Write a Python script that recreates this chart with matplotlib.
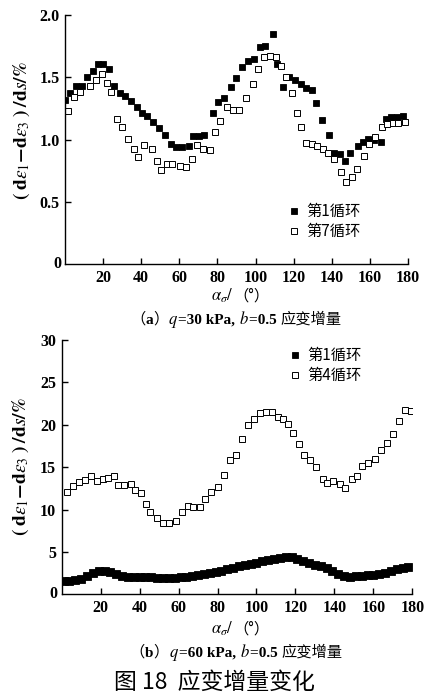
import numpy as np
import matplotlib
matplotlib.use("Agg")
from matplotlib import pyplot as plt
from matplotlib.transforms import IdentityTransform

plt.rcParams['mathtext.fontset'] = 'stix'
SERIF = ['Liberation Serif', 'Noto Sans CJK SC']
CJK = ['Noto Sans CJK SC', 'DejaVu Sans']

# ---- panel (a): q=30 kPa, b=0.5 ----
a_ang1 = [0, 2.6, 5.8, 8.7, 11.7, 14.5, 17.5, 20, 23.2, 25.7, 28.8, 31.5, 34.6, 37.6,
          40.2, 42.8, 46.3, 49.4, 52.6, 55.4, 58.5, 61.2, 65.2, 67.3, 70.3, 73.2, 77.8,
          80.4, 83.5, 87, 90, 93, 96.1, 99.1, 102.3, 105.2, 108.9, 111.5, 114.5, 117.6,
          120.6, 123.8, 126.7, 129.4, 131.6, 135.1, 138.6, 141.2, 144.2, 147.2, 149.8,
          153.8, 156.5, 159, 162.1, 165.6, 168.3, 171.3, 174, 177.4]
a_val1 = [1.32, 1.37, 1.43, 1.43, 1.505, 1.55, 1.61, 1.61, 1.57, 1.43, 1.37, 1.35, 1.31,
          1.26, 1.21, 1.19, 1.14, 1.09, 1.04, 0.965, 0.94, 0.94, 0.946, 1.03, 1.03, 1.035,
          1.21, 1.305, 1.33, 1.425, 1.495, 1.58, 1.63, 1.65, 1.745, 1.755, 1.85, 1.61,
          1.425, 1.50, 1.48, 1.447, 1.415, 1.40, 1.29, 1.158, 1.04, 0.89, 0.88, 0.826,
          0.89, 0.946, 0.978, 1.005, 1.00, 0.98, 1.166, 1.18, 1.18, 1.19]
a_ang7 = [1.7, 4.7, 7.9, 13.1, 16.3, 19.2, 22.2, 24.1, 27.1, 29.7, 33.2, 36.3, 38.1, 41.6,
          45.4, 48.1, 50.4, 53.3, 56.4, 60.3, 63.4, 66.4, 69.4, 72.5, 76, 78.7, 81.6, 85.1,
          88.2, 91.4, 95.2, 98.4, 101.4, 104.4, 107.5, 110.5, 113.3, 116, 118.9, 121.5,
          124.1, 126.7, 129.7, 132.5, 135.4, 138, 141.2, 144.6, 147.7, 150.5, 153.3,
          156.8, 159.6, 162.6, 166.1, 169.2, 172, 175, 178.6]
a_val7 = [1.23, 1.34, 1.38, 1.43, 1.48, 1.53, 1.45, 1.38, 1.166, 1.10, 1.005, 0.925, 0.858,
          0.952, 0.925, 0.83, 0.757, 0.805, 0.805, 0.786, 0.778, 0.84, 0.952, 0.925, 0.912,
          1.06, 1.152, 1.26, 1.233, 1.233, 1.33, 1.447, 1.567, 1.666, 1.674, 1.666, 1.594,
          1.506, 1.37, 1.211, 1.10, 0.97, 0.96, 0.946, 0.92, 0.89, 0.845, 0.74, 0.66, 0.70,
          0.765, 0.864, 0.96, 1.02, 1.10, 1.126, 1.13, 1.13, 1.14]

# ---- panel (b): q=60 kPa, b=0.5 ----
b_ang1 = [1, 4, 7, 10, 13, 16, 19, 22, 25, 28, 31, 34, 37, 40, 43, 46, 49, 52, 55, 58,
          61, 64, 67, 70, 73, 76, 79, 82, 85, 88, 91, 94, 97, 100, 103, 106, 109, 112,
          115, 118, 121, 124, 127, 130, 133, 136, 139, 142, 145, 148, 151, 154, 157, 160,
          163, 166, 169, 172, 175, 178]
b_val1 = [1.6, 1.6, 1.65, 1.8, 2.1, 2.5, 2.75, 2.75, 2.6, 2.4, 2.2, 2.05, 2.0, 2.0, 2.05,
          2.0, 1.9, 1.9, 1.95, 1.95, 2.0, 2.0, 2.1, 2.25, 2.4, 2.5, 2.65, 2.8, 2.95, 3.1,
          3.3, 3.45, 3.6, 3.75, 3.9, 4.0, 4.15, 4.3, 4.4, 4.35, 4.15, 3.9, 3.7, 3.5, 3.3,
          3.1, 2.8, 2.4, 2.1, 2.05, 2.15, 2.2, 2.25, 2.3, 2.35, 2.5, 2.75, 2.95, 3.1, 3.2]
b_ang4 = [2.6, 5.6, 8.9, 12, 14.9, 18, 21, 23.9, 26.8, 29, 32.1, 35.4, 37.6, 40.6, 43.1,
          45.3, 48.8, 52.2, 55.2, 58.7, 61.9, 64.7, 67.6, 71, 73.6, 76.9, 80.4, 83.5, 86.4,
          89.3, 92.7, 95.5, 98.7, 101.8, 104.7, 107.8, 110.9, 113.4, 116, 118.9, 121.8,
          124.5, 127.5, 130.5, 134, 136, 139.4, 142.9, 145.4, 148.9, 151.4, 154.3, 157.4,
          160.8, 163.9, 167.1, 170.2, 173.3, 176.2, 179.3]
b_val4 = [12.1, 12.8, 13.3, 13.5, 13.9, 13.4, 13.56, 13.7, 13.9, 12.9, 12.9, 13.0, 12.3,
          11.9, 10.65, 9.74, 8.96, 8.37, 8.44, 8.68, 9.67, 10.45, 10.33, 10.26, 11.3, 12.1,
          12.6, 14.1, 15.9, 16.4, 18.3, 19.97, 20.7, 21.4, 21.5, 21.5, 20.9, 20.7, 20.1,
          19.05, 17.7, 16.4, 15.8, 14.97, 13.56, 13.1, 13.4, 13.0, 12.5, 13.56, 14.0, 15.1,
          15.45, 16.0, 17.0, 17.9, 18.9, 20.5, 21.7, 21.6]

a_yticks = [0.5, 1.0, 1.5, 2.0]
a_yticklabels = ['0.5', '1.0', '1.5', '2.0']
b_yticks = [5, 10, 15, 20, 25, 30]
xticks = [20, 40, 60, 80, 100, 120, 140, 160, 180]

ylabel = (r'$\mathbf{(\;d}\varepsilon_1\mathbf{-d}\varepsilon_3\mathbf{\;)\;/d}s'
          r'\mathbf{/\%}$')

W, H = 427, 693
fig = plt.figure(figsize=(W / 100, H / 100), dpi=100)
renderer = fig.canvas.get_renderer()

BOLD = dict(family=SERIF, fontweight='bold', fontsize=11)
MATH = dict(family=SERIF, fontsize=12)
ZH = dict(family=CJK, fontsize=11)


def chain(cx, cy, pieces):
    # lay text pieces side by side, centred on pixel (cx, cy) measured from top
    texts = []
    for s, kw in pieces:
        t = fig.text(0, 0, s, transform=IdentityTransform(), ha='left', va='baseline', **kw)
        texts.append(t)
    widths = [t.get_window_extent(renderer).width for t in texts]
    x = cx - sum(widths) / 2
    for t, w in zip(texts, widths):
        t.set_position((x, H - cy - 4))
        x += w


def px_axes(l, r, t, b):
    return fig.add_axes([l / W, 1 - b / H, (r - l) / W, (b - t) / H])


def style(ax, ymax, yticks, yticklabels):
    ax.set_xlim(0, 180)
    ax.set_ylim(0, ymax)
    for s in ['top', 'right']:
        ax.spines[s].set_visible(False)
    for s in ['left', 'bottom']:
        ax.spines[s].set_linewidth(1.0)
    ax.set_xticks(xticks)
    ax.set_xticklabels([str(t) for t in xticks], family=SERIF, fontsize=11.5, fontweight='bold')
    ax.set_yticks(yticks)
    ax.set_yticklabels(yticklabels, family=SERIF, fontsize=11.5, fontweight='bold')
    ax.tick_params(direction='in', length=4, width=1, pad=4)
    ax.text(0, 0, '0', transform=matplotlib.transforms.offset_copy(
        ax.transData, fig=fig, x=-4, y=0, units='dots'),
        ha='right', va='center', family=SERIF, fontsize=11.5, fontweight='bold')


# panel a
ax1 = px_axes(65, 408, 15, 264)
ax1.plot(a_ang1, a_val1, 's', ms=4.6, mfc='black', mec='black', mew=0.6, label='第1循环')
ax1.plot(a_ang7, a_val7, 's', ms=4.6, mfc='white', mec='black', mew=0.7, label='第7循环')
style(ax1, 2.0, a_yticks, a_yticklabels)
ax1.legend(loc='center left', bbox_to_anchor=(0.645, 0.17), frameon=False,
           prop={'family': CJK, 'size': 11}, handlelength=1.0, handletextpad=0.3,
           borderpad=0, borderaxespad=0, labelspacing=0.2, markerscale=0.9)
fig.text(22 / W, 1 - 131 / H, ylabel, rotation=90, ha='center', va='center', fontsize=14)
chain(240, 297, [(r'$\alpha_\sigma\mathit{/}$', MATH), ('（°）', ZH)])
chain(236, 320, [('（', ZH), ('a', BOLD), ('）', ZH), ('$q$', MATH), ('=30 kPa, ', BOLD),
                 ('$b$', MATH), ('=0.5 ', BOLD), ('应变增量', ZH)])

# panel b
ax2 = px_axes(61.7, 412.3, 340, 594.3)
ax2.plot(b_ang1, b_val1, 's', ms=5.6, mfc='black', mec='black', mew=0.6, label='第1循环')
ax2.plot(b_ang4, b_val4, 's', ms=5.0, mfc='white', mec='black', mew=0.7, label='第4循环')
style(ax2, 30, b_yticks, [str(t) for t in b_yticks])
ax2.legend(loc='center left', bbox_to_anchor=(0.645, 0.90), frameon=False,
           prop={'family': CJK, 'size': 11}, handlelength=1.0, handletextpad=0.3,
           borderpad=0, borderaxespad=0, labelspacing=0.2, markerscale=0.8)
fig.text(21 / W, 1 - 467 / H, ylabel, rotation=90, ha='center', va='center', fontsize=14)
chain(240, 630, [(r'$\alpha_\sigma\mathit{/}$', MATH), ('（°）', ZH)])
chain(236, 653, [('（', ZH), ('b', BOLD), ('）', ZH), ('$q$', MATH), ('=60 kPa, ', BOLD),
                 ('$b$', MATH), ('=0.5 ', BOLD), ('应变增量', ZH)])

fig.text(214 / W, 1 - 682 / H, '图 18  应变增量变化', ha='center', va='center',
         family=CJK, fontsize=16.5)

fig.savefig('out.png', dpi=100)
